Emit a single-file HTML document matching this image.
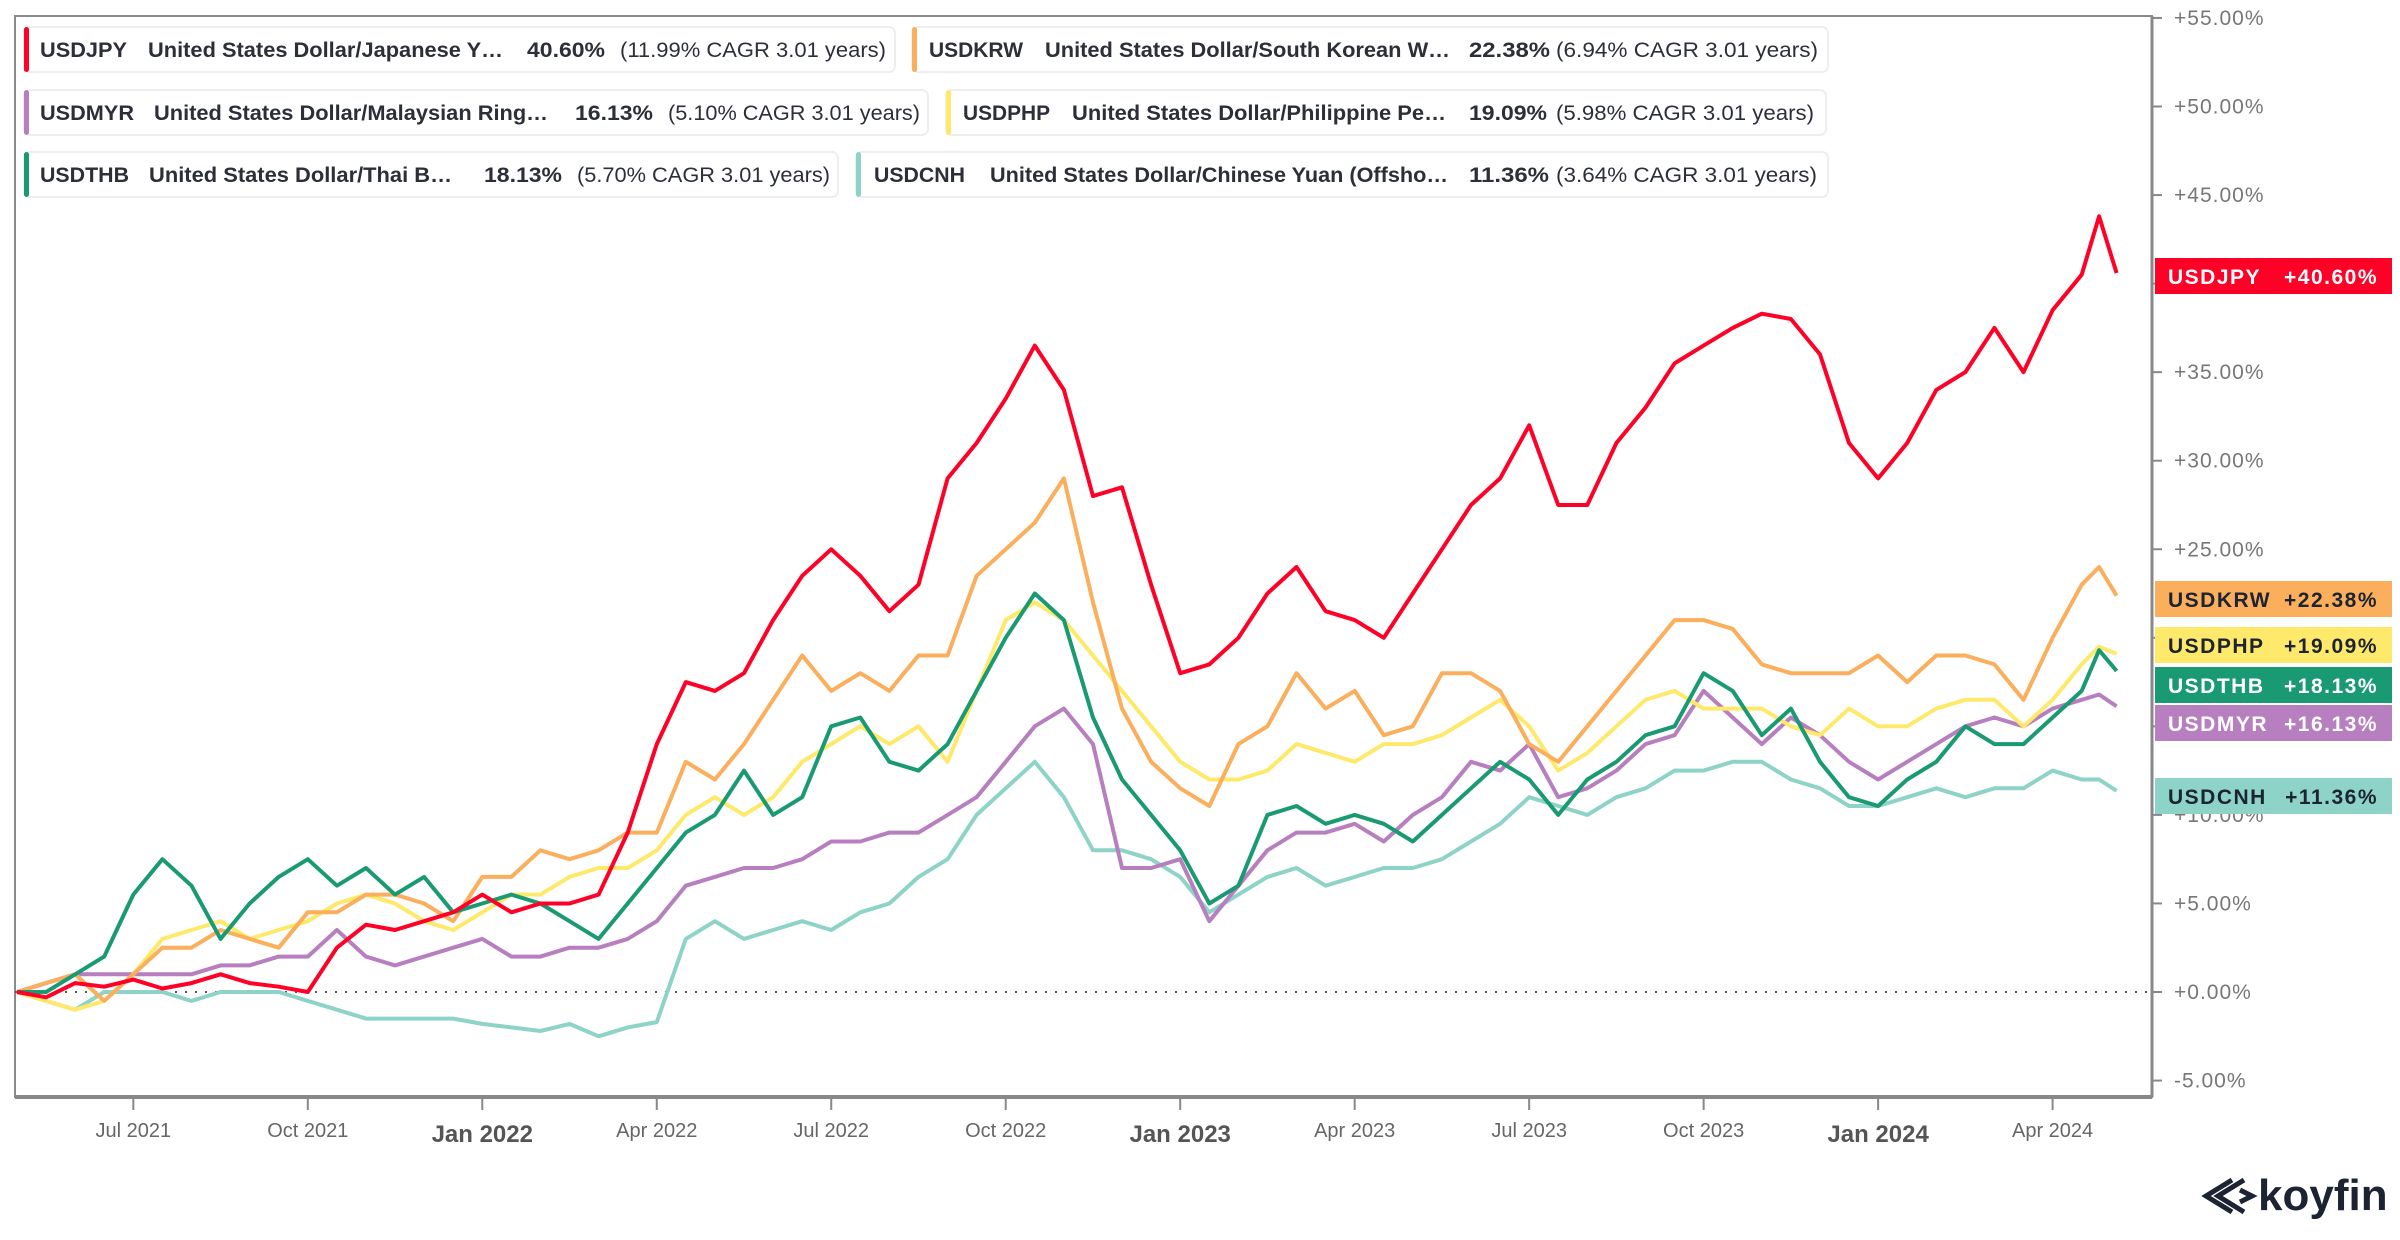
<!DOCTYPE html>
<html><head><meta charset="utf-8">
<style>
html,body{margin:0;padding:0;background:#fff;}
svg{display:block;font-family:"Liberation Sans",sans-serif;}
</style></head>
<body>
<svg id="chart" width="2400" height="1240" viewBox="0 0 2400 1240">
  <rect x="15" y="16" width="2137" height="1081" fill="#fff" stroke="#8a8a8a" stroke-width="2"/>
  <line x1="15" y1="1097" x2="2152" y2="1097" stroke="#888" stroke-width="4"/>
  <line x1="2152" y1="16" x2="2152" y2="1097" stroke="#888" stroke-width="3"/>
  <g id="grid"></g>
  <g id="series"></g>
  <g id="yaxis"></g>
  <g id="xaxis"></g>
  <g id="tags"></g>
  <g id="legend"></g>
  <g>
    <path d="M2232 1180 L2206 1196 L2232 1212 M2244 1180 L2218 1196 L2244 1212 M2240 1190 L2252 1196 L2240 1202" stroke="#1c2333" stroke-width="5" fill="none"/>
    <text x="2258" y="1210" font-size="44" font-weight="bold" fill="#1c2333">koyfin</text>
  </g>
</svg>
<script>
// time in months since 1 May 2021
const tMonths = [0,0.5,1,1.5,2,2.5,3,3.5,4,4.5,5,5.5,6,6.5,7,7.5,8,8.5,9,9.5,10,10.5,11,11.5,12,12.5,13,13.5,14,14.5,15,15.5,16,16.5,17,17.5,18,18.5,19,19.5,20,20.5,21,21.5,22,22.5,23,23.5,24,24.5,25,25.5,26,26.5,27,27.5,28,28.5,29,29.5,30,30.5,31,31.5,32,32.5,33,33.5,34,34.5,35,35.5,35.8,36.1];
const usdjpy = [0,-0.3,0.5,0.3,0.7,0.2,0.5,1,0.5,0.3,0,2.5,3.8,3.5,4,4.5,5.5,4.5,5,5,5.5,9,14,17.5,17,18,21,23.5,25,23.5,21.5,23,29,31,33.5,36.5,34,28,28.5,23,18,18.5,20,22.5,24,21.5,21,20,22.5,25,27.5,29,32,27.5,27.5,31,33,35.5,36.5,37.5,38.3,38,36,31,29,31,34,35,37.5,35,38.5,40.5,43.8,40.6];
const usdkrw = [0,0.5,1,-0.5,1,2.5,2.5,3.5,3,2.5,4.5,4.5,5.5,5.5,5,4,6.5,6.5,8,7.5,8,9,9,13,12,14,16.5,19,17,18,17,19,19,23.5,25,26.5,29,22,16,13,11.5,10.5,14,15,18,16,17,14.5,15,18,18,17,14,13,15,17,19,21,21,20.5,18.5,18,18,18,19,17.5,19,19,18.5,16.5,20,23,24,22.38];
const usdphp = [0,-0.5,-1,-0.5,1,3,3.5,4,3,3.5,4,5,5.5,5,4,3.5,4.5,5.5,5.5,6.5,7,7,8,10,11,10,11,13,14,15,14,15,13,17,21,22,21,19,17,15,13,12,12,12.5,14,13.5,13,14,14,14.5,15.5,16.5,15,12.5,13.5,15,16.5,17,16,16,16,15,14.5,16,15,15,16,16.5,16.5,15,16.5,18.5,19.5,19.09];
const usdthb = [0,0,1,2,5.5,7.5,6,3,5,6.5,7.5,6,7,5.5,6.5,4.5,5,5.5,5,4,3,5,7,9,10,12.5,10,11,15,15.5,13,12.5,14,17,20,22.5,21,15.5,12,10,8,5,6,10,10.5,9.5,10,9.5,8.5,10,11.5,13,12,10,12,13,14.5,15,18,17,14.5,16,13,11,10.5,12,13,15,14,14,15.5,17,19.3,18.13];
const usdmyr = [0,0.5,1,1,1,1,1,1.5,1.5,2,2,3.5,2,1.5,2,2.5,3,2,2,2.5,2.5,3,4,6,6.5,7,7,7.5,8.5,8.5,9,9,10,11,13,15,16,14,7,7,7.5,4,6,8,9,9,9.5,8.5,10,11,13,12.5,14,11,11.5,12.5,14,14.5,17,15.5,14,15.5,14.5,13,12,13,14,15,15.5,15,16,16.5,16.8,16.13];
const usdcnh = [0,-0.5,-1,0,0,0,-0.5,0,0,0,-0.5,-1,-1.5,-1.5,-1.5,-1.5,-1.8,-2,-2.2,-1.8,-2.5,-2,-1.7,3,4,3,3.5,4,3.5,4.5,5,6.5,7.5,10,11.5,13,11,8,8,7.5,6.5,4.5,5.5,6.5,7,6,6.5,7,7,7.5,8.5,9.5,11,10.5,10,11,11.5,12.5,12.5,13,13,12,11.5,10.5,10.5,11,11.5,11,11.5,11.5,12.5,12,12,11.36];
const yTicks = [55,50,45,40,35,30,25,20,15,10,5,0,-5];
const xTickMonths = [2,5,8,11,14,17,20,23,26,29,32,35];
const xTickLabels = ["Jul 2021","Oct 2021","Jan 2022","Apr 2022","Jul 2022","Oct 2022","Jan 2023","Apr 2023","Jul 2023","Oct 2023","Jan 2024","Apr 2024"];
const tickers = ["USDJPY","USDKRW","USDMYR","USDPHP","USDTHB","USDCNH"];
const names = ["United States Dollar/Japanese Y…","United States Dollar/South Korean W…","United States Dollar/Malaysian Ring…","United States Dollar/Philippine Pe…","United States Dollar/Thai B…","United States Dollar/Chinese Yuan (Offsho…"];
const totals = [40.60,22.38,16.13,19.09,18.13,11.36];
const cagrs = [11.99,6.94,5.10,5.98,5.70,3.64];

const NS="http://www.w3.org/2000/svg";
const xS = t => 17 + t*58.16;
const yS = v => 992 - v*17.71;
function mk(tag, attrs, parent){const e=document.createElementNS(NS,tag);for(const k in attrs)e.setAttribute(k,attrs[k]);parent.appendChild(e);return e;}

const colors={USDJPY:"#ff0026",USDKRW:"#fbae5c",USDMYR:"#b77fbf",USDPHP:"#ffe96a",USDTHB:"#1a9a72",USDCNH:"#8ed3c7"};
const tagText={USDJPY:"#fff",USDKRW:"#1c2333",USDMYR:"#fff",USDPHP:"#1c2333",USDTHB:"#fff",USDCNH:"#1c2333"};
const seriesData={USDJPY:usdjpy,USDKRW:usdkrw,USDMYR:usdmyr,USDPHP:usdphp,USDTHB:usdthb,USDCNH:usdcnh};

// zero line
const g0=document.getElementById('grid');
const zl=mk('line',{x1:15,x2:2152,y1:yS(0),y2:yS(0),stroke:"#555","stroke-width":2,"stroke-dasharray":"2 8"},g0);



// series (draw order: CNH, MYR, PHP, KRW, THB, JPY)
const sg=document.getElementById('series');
["USDCNH","USDMYR","USDPHP","USDKRW","USDTHB","USDJPY"].forEach(k=>{
  const d=seriesData[k].map((v,i)=>(i?'L':'M')+xS(tMonths[i]).toFixed(1)+' '+yS(v).toFixed(1)).join(' ');
  const p=mk('path',{d:d,fill:"none",stroke:colors[k],"stroke-width":4,"stroke-linejoin":"round"},sg);
  
  
});

// y axis
const yg=document.getElementById('yaxis');
yTicks.forEach(v=>{
  const y=yS(v);
  const tk=mk('line',{x1:2152,x2:2162,y1:y,y2:y,stroke:"#888","stroke-width":2},yg);
  
  
  const t=mk('text',{x:2174,y:y+7,"font-size":21,fill:"#777","letter-spacing":"1"},yg);
  t.textContent=(v<0?'-':'+')+Math.abs(v).toFixed(2)+'%';
  
  
});

// x axis
const xg=document.getElementById('xaxis');
xTickMonths.forEach((m,i)=>{
  const x=xS(m);
  const tk=mk('line',{x1:x,x2:x,y1:1097,y2:1110,stroke:"#888","stroke-width":2},xg);
  
  
  const isJan=xTickLabels[i].startsWith('Jan');
  const t=mk('text',{x:x,y:isJan?1142:1137,"text-anchor":"middle","font-size":isJan?24:20,"font-weight":isJan?"bold":"normal",fill:isJan?"#555":"#666"},xg);
  t.textContent=xTickLabels[i];
  
  
});

// value tags
const tg=document.getElementById('tags');
const tagY={USDJPY:276,USDKRW:599,USDPHP:645,USDTHB:685,USDMYR:723,USDCNH:796};
Object.keys(tagY).forEach(k=>{
  const i=tickers.indexOf(k);
  const cy=tagY[k];
  const g=mk('g',{},tg);
  
  
  mk('rect',{x:2155,y:cy-18,width:237,height:36,fill:colors[k]},g);
  const a=mk('text',{x:2168,y:cy+8,"font-size":21,"font-weight":"bold",fill:tagText[k],"letter-spacing":"1.5"},g);
  a.textContent=k;
  const b=mk('text',{x:2378,y:cy+8,"text-anchor":"end","font-size":21,"font-weight":"bold",fill:tagText[k],"letter-spacing":"1.5"},g);
  b.textContent='+'+totals[i].toFixed(2)+'%';
});

// legend
const lg=document.getElementById('legend');
const boxes=[
 {k:"USDJPY",x0:24,x1:895,y:27,tx:[40,127,148,503,527,605,620,886]},
 {k:"USDKRW",x0:912,x1:1828,y:27,tx:[929,1023,1045,1450,1469,1550,1556,1818]},
 {k:"USDMYR",x0:24,x1:928,y:90,tx:[40,134,154,548,575,653,668,920]},
 {k:"USDPHP",x0:946,x1:1826,y:90,tx:[963,1050,1072,1446,1469,1547,1556,1814]},
 {k:"USDTHB",x0:24,x1:838,y:152,tx:[40,129,149,452,484,562,577,830]},
 {k:"USDCNH",x0:856,x1:1828,y:152,tx:[874,965,990,1448,1469,1549,1556,1817]}
];
boxes.forEach(b=>{
  const i=tickers.indexOf(b.k);
  const g=mk('g',{},lg);
  
  
  mk('rect',{x:b.x0,y:b.y,width:b.x1-b.x0,height:45,rx:6,fill:"#fff",stroke:"#eeeeee","stroke-width":2},g);
  mk('rect',{x:b.x0,y:b.y,width:5,height:45,rx:2.5,fill:colors[b.k]},g);
  const ty=b.y+30;
  const parts=[b.k,names[i],totals[i].toFixed(2)+'%','('+cagrs[i].toFixed(2)+'% CAGR 3.01 years)'];
  parts.forEach((s,j)=>{
    const t=mk('text',{x:b.tx[2*j],y:ty,"font-size":21,"font-weight":j<3?"bold":"normal",fill:"#2b2f38",textLength:b.tx[2*j+1]-b.tx[2*j],lengthAdjust:"spacingAndGlyphs"},g);
    t.textContent=s;
  });
});
</script>
</body></html>
